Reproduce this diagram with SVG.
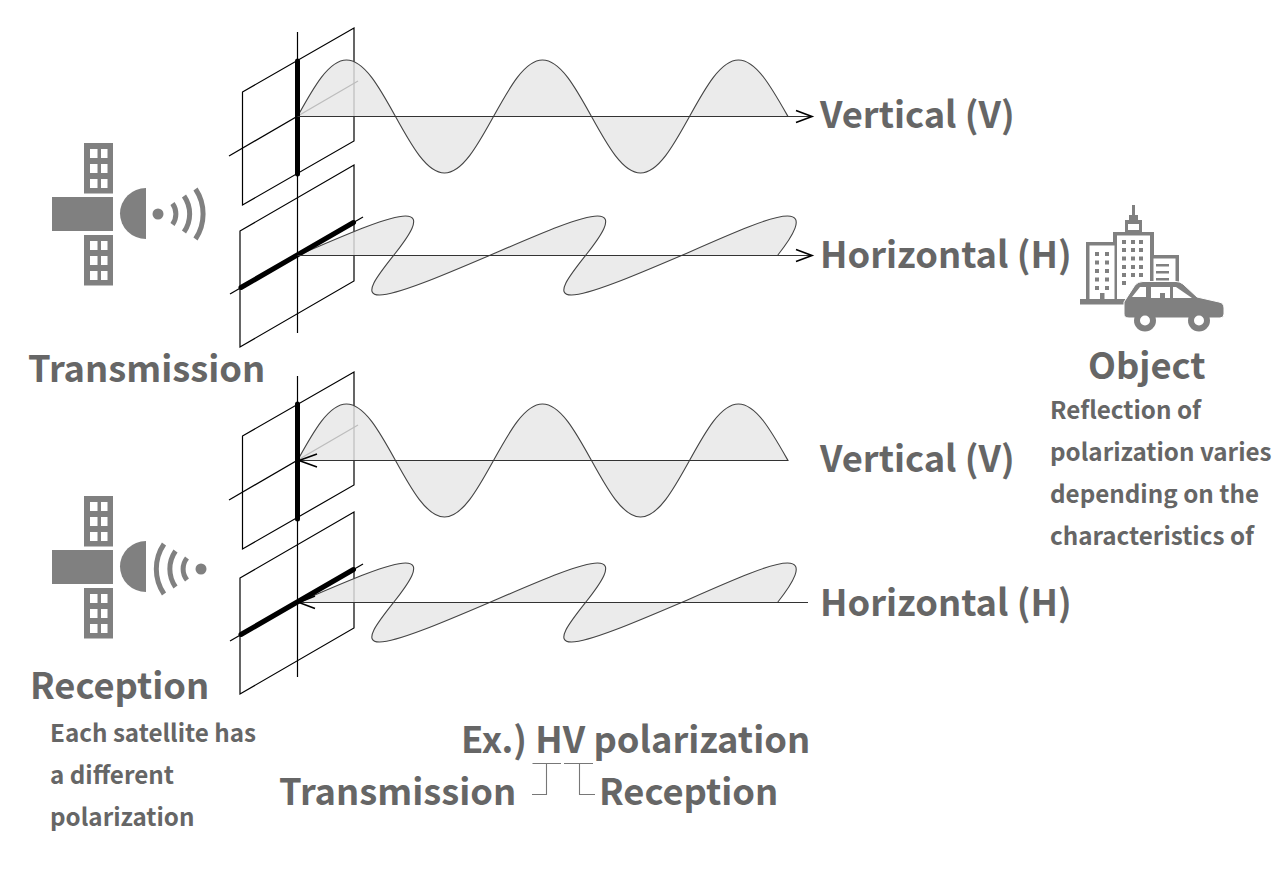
<svg xmlns="http://www.w3.org/2000/svg" xmlns:xlink="http://www.w3.org/1999/xlink" width="1280" height="885" viewBox="0 0 1280 885">
<style>
text{font-family:"Noto Sans CJK JP","Noto Sans",sans-serif;font-weight:700;fill:#666}
.l{font-size:36.300px}
.s{font-size:24.200px}
.thin{fill:none;stroke:#000;stroke-width:1.2}
.thick{fill:none;stroke:#000;stroke-width:5;stroke-linecap:round}
.wave{fill:#e6e6e6;fill-opacity:.82;stroke:#444;stroke-width:1.1}
.axis{fill:none;stroke:#333;stroke-width:1.2}
.head{fill:none;stroke:#000;stroke-width:1.6}
.ic{fill:#808080}
.w{fill:#fff}
.arc{fill:none;stroke:#808080;stroke-width:5}
.br{fill:none;stroke:#777;stroke-width:1.1}
</style>
<defs>
<path id="wv" class="wave" d="M0 0c16-29 31.3-56.500 49-56.500c17.7 0 33 27.500 49 56.500c16 29 31.3 56.500 49 56.500c17.700 0 33-27.500 49-56.500c16-29 31.300-56.500 49-56.500c17.700 0 33 27.500 49 56.500c16 29 31.300 56.500 49 56.500c17.700 0 33-27.500 49-56.500c16-29 31.300-56.500 49-56.500c17.700 0 33 27.500 49.500 56.500z"/>
<path id="wh" class="wave" d="M0 0c47-20.200 90.600-39.500 108-39.500c17.400 0 4 19.300-12 39.500c-16 20.200-31.400 39.500-14 39.500c17.400 0 62.650-19.300 110-39.500c47-20.200 90.600-39.500 108-39.500c17.400 0 4 19.300-12 39.500c-16 20.200-31.400 39.500-14 39.500c17.400 0 62.650-19.300 110-39.500c46-20.200 88.600-39.500 106-39.500c17.400 0 6 19.300-10 39.500z"/>
<g id="panel">
<rect class="ic" x="84" y="0" width="29" height="50.500"/>
<rect class="w" x="90" y="6" width="7.500" height="9"/><rect class="w" x="101" y="6" width="6.500" height="9"/>
<rect class="w" x="90" y="21" width="7.500" height="9"/><rect class="w" x="101" y="21" width="6.500" height="9"/>
<rect class="w" x="90" y="36" width="7.500" height="9"/><rect class="w" x="101" y="36" width="6.500" height="9"/>
</g>
<g id="sat">
<use xlink:href="#panel" href="#panel" y="143"/>
<rect class="ic" x="52" y="197" width="61" height="34"/>
<use xlink:href="#panel" href="#panel" y="235"/>
<path class="ic" d="M146 188A26 25.500 0 0 0 146 239z"/>
</g>
<g id="pv">
<path class="thin" d="M242.500 92L354 28V141L242.500 205z"/>
<path class="thin" d="M229 156L358 81"/>
<path class="thin" d="M297.500 32V333"/>
</g>
<g id="ph">
<path class="thin" d="M240 231L354 165V281L240 347z"/>
<path class="thin" d="M230 294L363 217"/>
</g>
</defs>

<g id="plane-tx-v"><use xlink:href="#pv" href="#pv"/></g>
<g id="plane-tx-h"><use xlink:href="#ph" href="#ph"/></g>
<g id="plane-rx-v"><use xlink:href="#pv" href="#pv" y="344"/></g>
<g id="plane-rx-h"><use xlink:href="#ph" href="#ph" y="347"/></g>

<g id="wave-tx-v"><use xlink:href="#wv" href="#wv" x="297.500" y="116.500"/></g>
<g id="wave-tx-h"><use xlink:href="#wh" href="#wh" x="297.500" y="255.500"/></g>
<g id="wave-rx-v"><use xlink:href="#wv" href="#wv" x="297.500" y="460.500"/></g>
<g id="wave-rx-h"><use xlink:href="#wh" href="#wh" x="297.500" y="602.500"/></g>

<g id="connectors">
<path class="thick" d="M297.500 61V174"/>
<path class="thick" d="M241 287.500L353.500 222.500"/>
<path class="thick" d="M297.500 404V519"/>
<path class="thick" d="M241 634.500L353.500 569.500"/>
<path class="axis" d="M297.500 116.500H812"/>
<path class="head" d="M796 110.500L812 116.500L796 122.500"/>
<path class="axis" d="M297.500 255.500H812"/>
<path class="head" d="M796 249.500L812 255.500L796 261.500"/>
<path class="axis" d="M299 460.500H788"/>
<path class="head" d="M317 454L299 460.500L317 467"/>
<path class="axis" d="M299 602.500H808"/>
<path class="head" d="M315 596L299 602.500L315 608.500"/>
<path class="br" d="M532.500 763.500H561M546.500 763.500V794.500H532"/>
<path class="br" d="M564 763.500H593M579.500 763.500V794.500H595"/>
</g>

<g id="sat-tx">
<use xlink:href="#sat" href="#sat"/>
<circle class="ic" cx="158" cy="214" r="5.500"/>
<path class="arc" d="M172.500 203.500A18 18 0 0 1 172.500 224.500"/>
<path class="arc" d="M184 196A31.500 31.500 0 0 1 184 232"/>
<path class="arc" d="M195.500 189A45 45 0 0 1 195.500 239"/>
</g>
<g id="sat-rx">
<use xlink:href="#sat" href="#sat" y="353"/>
<circle class="ic" cx="201" cy="569" r="5.500"/>
<path class="arc" d="M187 558A17.500 17.500 0 0 0 187 580"/>
<path class="arc" d="M175.500 551A31.500 31.500 0 0 0 175.500 587"/>
<path class="arc" d="M164 544A44.500 44.500 0 0 0 164 594"/>
</g>

<g id="object">
<path class="ic" d="M1132 205h3v10h-3z"/>
<path class="ic" d="M1129 215h9v5h-9zM1125 220h17v12h-17z"/>
<rect class="w" x="1128" y="224" width="11" height="6"/>
<path class="ic" d="M1113 232h41v69h-41z"/>
<rect class="w" x="1117" y="235.500" width="33" height="65"/>
<path class="ic" d="M1086 242h30v59h-30z"/>
<rect class="w" x="1089.500" y="245.500" width="25" height="55"/>
<path class="ic" d="M1150 255h29v31h-29z"/>
<rect class="w" x="1153.500" y="258.500" width="22" height="27"/>
<rect class="ic" x="1080" y="299" width="48" height="5.500"/>
<path class="ic" d="M1095 252h4v4h-4zM1105 252h4v4h-4zM1095 260.500h4v4h-4zM1105 260.500h4v4h-4zM1095 269h4v4h-4zM1105 269h4v4h-4zM1095 277.500h4v4h-4zM1105 277.500h4v4h-4zM1095 286h4v4h-4zM1105 286h4v4h-4z"/>
<path class="ic" d="M1100 293h4.500v7h-4.500z"/>
<path class="ic" d="M1122 240h4v4h-4zM1131 240h4v4h-4zM1139 240h4v4h-4zM1122 248h4v4h-4zM1131 248h4v4h-4zM1139 248h4v4h-4zM1122 256.500h4v4h-4zM1131 256.500h4v4h-4zM1139 256.500h4v4h-4zM1122 265h4v4h-4zM1131 265h4v4h-4zM1139 265h4v4h-4zM1122 273h4v4h-4zM1131 273h4v4h-4zM1139 273h4v4h-4zM1122 281h4v4h-4z"/>
<path class="ic" d="M1156 264h13v2.500h-13zM1156 271h13v2.500h-13zM1156 278h13v2.500h-13z"/>
<path class="ic" stroke="#fff" stroke-width="1" d="M1124 302L1135 285Q1138 281.500 1143 281.500L1176 281.500Q1180 281.500 1183 284L1197 297L1219 302Q1224 303 1224 308V314Q1224 318 1220 318H1129Q1124 318 1124 314z"/>
<path class="w" d="M1132 297L1140 287H1146V297zM1151 287H1170V298H1151zM1173 287H1176L1192 298H1173z"/>
<rect class="ic" x="1160" y="293" width="5" height="5"/>
<circle class="ic" cx="1145" cy="320.500" r="11"/><circle class="w" cx="1145" cy="320.500" r="5"/>
<circle class="ic" cx="1199" cy="320.500" r="11"/><circle class="w" cx="1199" cy="320.500" r="5"/>
</g>

<g id="labels">
<text class="l" x="820" y="127.500">Vertical (V)</text>
<text class="l" x="820" y="267.500">Horizontal (H)</text>
<text class="l" x="820" y="471.500">Vertical (V)</text>
<text class="l" x="820" y="615.500">Horizontal (H)</text>
<text class="l" x="28" y="382">Transmission</text>
<text class="l" x="30" y="699">Reception</text>
<text class="l" x="1088" y="378.500">Object</text>
<text class="s" x="1050" y="419">Reflection of</text>
<text class="s" x="1050" y="461">polarization varies</text>
<text class="s" x="1050" y="503">depending on the</text>
<text class="s" x="1050" y="545">characteristics of</text>
<text class="s" x="50" y="742">Each satellite has</text>
<text class="s" x="50" y="784">a different</text>
<text class="s" x="50" y="826">polarization</text>
<text class="l" x="461" y="753">Ex.) HV polarization</text>
<text class="l" x="279" y="805">Transmission</text>
<text class="l" x="599" y="805">Reception</text>
</g>
</svg>
